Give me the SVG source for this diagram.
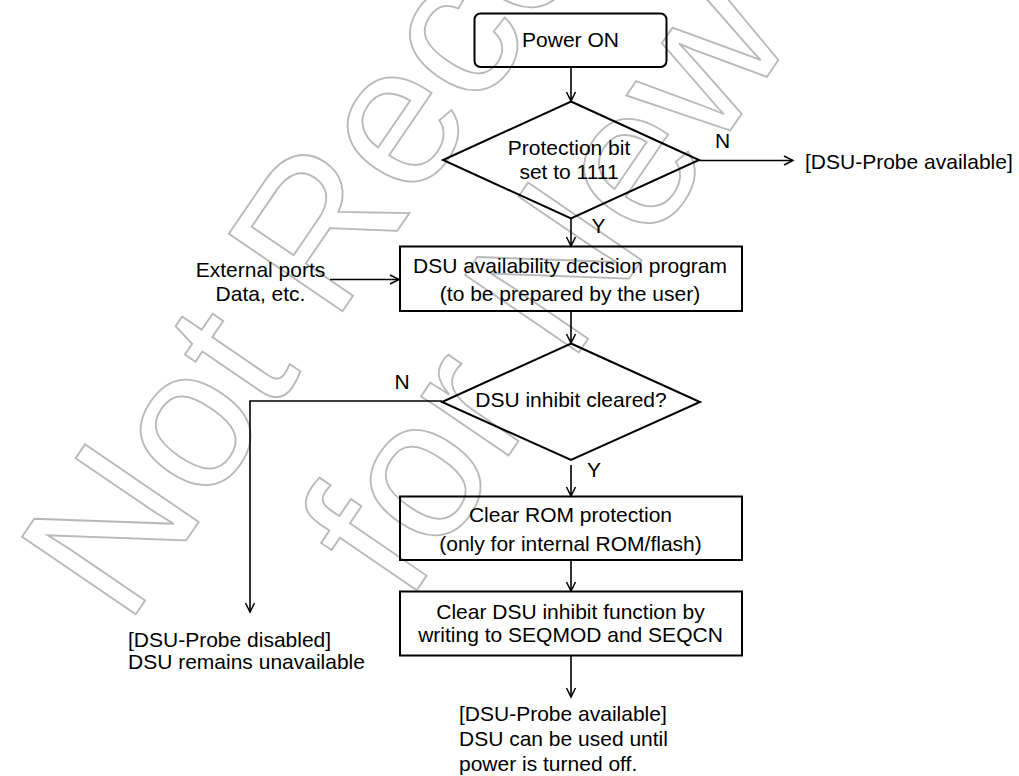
<svg xmlns="http://www.w3.org/2000/svg" width="1019" height="776" viewBox="0 0 1019 776">
<style>
.wm{font-family:"Liberation Sans",Arial,sans-serif;font-size:200px;fill:none;stroke:#b8b8b8;stroke-width:1.8;text-anchor:middle}
.box{fill:none;stroke:#000;stroke-width:2}
.ln{fill:none;stroke:#000;stroke-width:1.6}
.t{font-family:"Liberation Sans",Arial,sans-serif;font-size:21px;fill:#000}
.c{text-anchor:middle}
</style>
<defs>
<marker id="arr" markerUnits="userSpaceOnUse" markerWidth="12" markerHeight="12" viewBox="-10 -6 12 12" refX="0" refY="0" orient="auto">
<path d="M-9,-4.5 L0,0 L-9,4.5" fill="none" stroke="#000" stroke-width="1.5"/>
</marker>
</defs>
<g id="watermark">
<text class="wm" transform="translate(612,-84) rotate(-55.7)">Not Recommended</text>
<text class="wm" transform="translate(792,40) rotate(-55.7)">for New Design</text>
</g>
<g id="connectors">
<line class="ln" x1="571" y1="67" x2="571" y2="101" marker-end="url(#arr)"/>
<line class="ln" x1="699" y1="160.5" x2="793" y2="160.5" marker-end="url(#arr)"/>
<line class="ln" x1="571" y1="219" x2="571" y2="246" marker-end="url(#arr)"/>
<line class="ln" x1="330" y1="279.5" x2="399" y2="279.5" marker-end="url(#arr)"/>
<line class="ln" x1="571" y1="311" x2="571" y2="343" marker-end="url(#arr)"/>
<polyline class="ln" points="442,401 250,401 250,612" marker-end="url(#arr)"/>
<line class="ln" x1="571" y1="465" x2="571" y2="496" marker-end="url(#arr)"/>
<line class="ln" x1="571" y1="560" x2="571" y2="591" marker-end="url(#arr)"/>
<line class="ln" x1="571" y1="655.5" x2="571" y2="697" marker-end="url(#arr)"/>
<text class="t c" x="722.5" y="148">N</text>
<text class="t c" x="598.5" y="233">Y</text>
<text class="t c" x="402" y="389">N</text>
<text class="t c" x="594" y="477">Y</text>
</g>
<g id="power-on">
<rect class="box" x="474.5" y="13.5" width="192" height="53.5" rx="6"/>
<text class="t c" x="570.5" y="47">Power ON</text>
</g>
<g id="protection-bit">
<polygon class="box" points="571,101.5 699,160 571,218.5 443,160"/>
<text class="t c" x="569" y="155">Protection bit</text>
<text class="t c" x="569" y="179">set to 1111</text>
</g>
<g id="probe-available-top">
<text class="t" x="805" y="168.5">[DSU-Probe available]</text>
</g>
<g id="external-ports">
<text class="t c" x="260.5" y="277">External ports</text>
<text class="t c" x="260.5" y="300.5">Data, etc.</text>
</g>
<g id="decision-program">
<rect class="box" x="400" y="246.5" width="342" height="64.5"/>
<text class="t c" x="570" y="273">DSU availability decision program</text>
<text class="t c" x="570" y="301">(to be prepared by the user)</text>
</g>
<g id="inhibit-cleared">
<polygon class="box" points="571,343.5 700,402 571,460 442,402"/>
<text class="t c" x="571" y="407">DSU inhibit cleared?</text>
</g>
<g id="probe-disabled">
<text class="t" x="128" y="647">[DSU-Probe disabled]</text>
<text class="t" x="128" y="668.5">DSU remains unavailable</text>
</g>
<g id="clear-rom">
<rect class="box" x="400" y="496.5" width="342" height="63.5"/>
<text class="t c" x="570.5" y="521.5">Clear ROM protection</text>
<text class="t c" x="570.5" y="550.5">(only for internal ROM/flash)</text>
</g>
<g id="clear-inhibit">
<rect class="box" x="400" y="591.5" width="342" height="64"/>
<text class="t c" x="570.5" y="619">Clear DSU inhibit function by</text>
<text class="t c" x="570.5" y="641.5">writing to SEQMOD and SEQCN</text>
</g>
<g id="probe-available-bottom">
<text class="t" x="459" y="721">[DSU-Probe available]</text>
<text class="t" x="459" y="746">DSU can be used until</text>
<text class="t" x="459" y="771">power is turned off.</text>
</g>
</svg>
